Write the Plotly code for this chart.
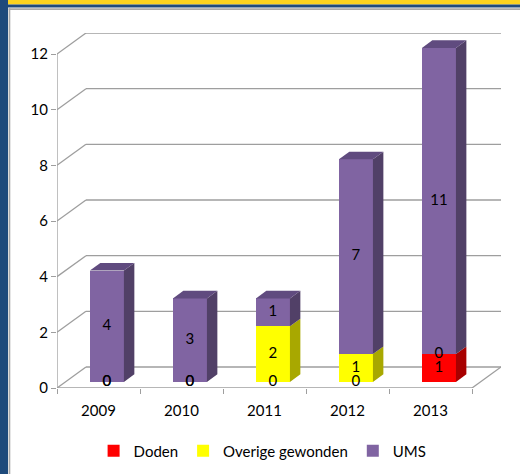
import plotly.graph_objects as go

# ---- data -------------------------------------------------------------
years = ["2009", "2010", "2011", "2012", "2013"]
doden = [0, 0, 0, 0, 1]
overige_gewonden = [0, 0, 2, 1, 0]
ums = [4, 3, 1, 7, 11]
y_ticks = [0, 2, 4, 6, 8, 10, 12]

# name, values, front colour, side colour, top colour
series = [
    ("Doden", doden, "#FF0000", "#A80000", "#C40000"),
    ("Overige gewonden", overige_gewonden, "#FFFF00", "#A8A800", "#CFCF00"),
    ("UMS", ums, "#8064A2", "#514067", "#604B7F"),
]

# ---- pseudo-3D geometry (data units) ----------------------------------
DX = 0.349          # horizontal depth of the floor
DY = 0.755          # vertical depth of the floor
F0, F1 = 0.29, 0.65 # depth span occupied by the bars
BAR_W = 0.41
GRID = "#9E9E9E"
FONT = "Lato"
TXT = "#000000"
FS = 15

# plot area in pixels (used for the frame decoration)
W_FIG, H_FIG = 520, 474
L, R, T, B = 57, 501, 33, 388


def px_x(p):
    return (p - L) / (R - L)


def px_y(p):
    return (B - p) / (B - T)


fig = go.Figure()
n = len(years)
xs = list(range(n))
stack = [0] * n
label_x, label_y, label_t = [], [], []
top_info = [None] * n
ddx, ddy = (F1 - F0) * DX, (F1 - F0) * DY

for name, vals, front, side, top in series:
    fx = [x + F0 * DX for x in xs]
    fb = [s + F0 * DY for s in stack]
    fig.add_trace(go.Bar(
        x=fx, y=vals, base=fb, width=BAR_W, name=name,
        marker=dict(color=front, line=dict(width=0)),
        hoverinfo="skip",
    ))
    sx, sy = [], []
    for i, v in enumerate(vals):
        label_x.append(fx[i])
        label_y.append(fb[i] + v / 2)
        label_t.append(str(v))
        if v <= 0:
            continue
        xr = fx[i] + BAR_W / 2
        b, t = fb[i], fb[i] + v
        sx += [xr, xr + ddx, xr + ddx, xr, xr, None]
        sy += [b, b + ddy, t + ddy, t, b, None]
        top_info[i] = (fx[i], t, top)
    fig.add_trace(go.Scatter(
        x=sx, y=sy, mode="lines", fill="toself", fillcolor=side,
        line=dict(width=0), showlegend=False, hoverinfo="skip",
    ))
    stack = [s + v for s, v in zip(stack, vals)]

# top faces of each stack
for info in top_info:
    if info is None:
        continue
    cx, t, col = info
    xl, xr = cx - BAR_W / 2, cx + BAR_W / 2
    fig.add_trace(go.Scatter(
        x=[xl, xl + ddx, xr + ddx, xr, xl],
        y=[t, t + ddy, t + ddy, t, t],
        mode="lines", fill="toself", fillcolor=col,
        line=dict(width=0), showlegend=False, hoverinfo="skip",
    ))

# value labels on the front faces
fig.add_trace(go.Scatter(
    x=label_x, y=label_y, text=label_t, mode="text",
    textfont=dict(family=FONT, size=FS, color=TXT),
    showlegend=False, hoverinfo="skip", cliponaxis=False,
))

# ---- walls, floor and axis lines ---------------------------------------
shapes = []
x_lo, x_hi = -0.5, n - 0.5
for t in y_ticks:
    shapes.append(dict(type="line", xref="x", yref="y", layer="below",
                       x0=x_lo + DX, x1=x_hi + DX, y0=t + DY, y1=t + DY,
                       line=dict(color=GRID, width=1.3)))
    shapes.append(dict(type="line", xref="x", yref="y", layer="below",
                       x0=x_lo, x1=x_lo + DX, y0=t, y1=t + DY,
                       line=dict(color=GRID, width=1.3)))
shapes.append(dict(type="line", xref="x", yref="y", layer="below",
                   x0=x_lo, x1=x_hi, y0=0, y1=0,
                   line=dict(color=GRID, width=1.3)))
shapes.append(dict(type="line", xref="x", yref="y", layer="below",
                   x0=x_hi, x1=x_hi + DX, y0=0, y1=DY,
                   line=dict(color=GRID, width=1.3)))
shapes.append(dict(type="line", xref="x", yref="y", layer="below",
                   x0=x_lo, x1=x_lo, y0=0, y1=max(y_ticks),
                   line=dict(color=GRID, width=1.3)))

# ---- frame decoration ------------------------------------------------------
def rect(x0, y0, x1, y1, color):
    return dict(type="rect", xref="paper", yref="paper", layer="above",
                x0=px_x(x0), x1=px_x(x1), y0=px_y(y0), y1=px_y(y1),
                fillcolor=color, line=dict(width=0))

shapes.append(rect(0, 0, W_FIG, 4.5, "#FCD31F"))
shapes.append(rect(0, 4.5, W_FIG, 7.5, "#1E4A7B"))
shapes.append(rect(0, 0, 8, H_FIG, "#1E4A7B"))
shapes.append(rect(8.6, 8.3, 10.3, H_FIG, "#A9A9A9"))
shapes.append(rect(8.6, 8.3, W_FIG, 10, "#A9A9A9"))

fig.update_layout(
    width=W_FIG, height=H_FIG, autosize=False,
    margin=dict(l=L, r=W_FIG - R, t=T, b=H_FIG - B, pad=0),
    paper_bgcolor="white", plot_bgcolor="white",
    barmode="overlay", bargap=0,
    font=dict(family=FONT, size=FS, color=TXT),
    shapes=shapes,
    xaxis=dict(
        range=[x_lo, x_hi + DX], tickmode="array", tickvals=xs, ticktext=years,
        ticks="outside", ticklen=9, tickcolor="rgba(0,0,0,0)",
        showgrid=False, zeroline=False, showline=False, automargin=False,
        fixedrange=True,
        minor=dict(tickmode="array", tickvals=[i - 0.5 for i in range(n + 1)],
                   ticks="outside", ticklen=5, tickcolor=GRID, tickwidth=1.3,
                   showgrid=False),
        tickfont=dict(family=FONT, size=FS, color=TXT),
    ),
    yaxis=dict(
        range=[0, max(y_ticks) + DY], tickmode="array", tickvals=y_ticks,
        ticks="outside", ticklen=5, tickcolor=GRID, tickwidth=1.3,
        showgrid=False, zeroline=False, showline=False, automargin=False,
        fixedrange=True, tickfont=dict(family=FONT, size=FS, color=TXT),
    ),
    legend=dict(
        orientation="h", xref="container", yref="container",
        x=0.505, xanchor="center", y=1 - 451 / H_FIG, yanchor="middle",
        font=dict(family=FONT, size=FS, color=TXT),
        traceorder="normal", itemwidth=30, bgcolor="rgba(0,0,0,0)",
    ),
)

fig.write_html("out.html")
